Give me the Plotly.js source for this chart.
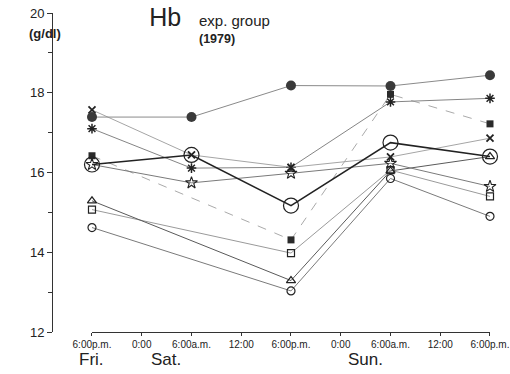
<!DOCTYPE html>
<html>
<head>
<meta charset="utf-8">
<script src="https://cdn.plot.ly/plotly-3.0.1.min.js"></script>
<style>html,body{margin:0;padding:0;background:#fff;}#chart{width:510px;height:374px;}</style>
</head>
<body>
<div id="chart"></div>
<script>
// Hours after Friday 6:00 p.m.
const timeHours = [0, 12, 24, 36, 48];
const tickHours = [0, 6, 12, 18, 24, 30, 36, 42, 48];
const tickLabels = ["6:00p.m.", "0:00", "6:00a.m.", "12:00", "6:00p.m.", "0:00", "6:00a.m.", "12:00", "6:00p.m."];
const yTicks = [12, 14, 16, 18, 20];

// Hb (g/dl) per subject; null = not measured
const bigOpenCircle = [16.2, 16.44, 15.17, 16.75, 16.4];
const filledCircle  = [17.39, 17.39, 18.18, 18.17, 18.44];
const xMark         = [17.57, 16.44, 16.13, 16.39, 16.86];
const asteriskMark  = [17.1, 16.11, 16.13, 17.77, 17.86];
const filledSquare  = [16.42, null, 14.31, 17.96, 17.22];
const starMark      = [16.2, 15.74, 15.98, 16.23, 15.65];
const triangleMark  = [15.29, null, 13.29, 16.04, 16.4];
const openSquare    = [15.07, null, 13.98, 16.06, 15.4];
const smallCircle   = [14.62, null, 13.03, 15.85, 14.9];

function tr(y, sym, size, lineColor, lineWidth, mColor, mLineW, dash) {
  return {
    x: timeHours, y: y, type: 'scatter', mode: 'lines+markers',
    connectgaps: true, cliponaxis: false, hoverinfo: 'skip',
    line: {color: lineColor, width: lineWidth, dash: dash || 'solid'},
    marker: {symbol: sym, size: size, color: mColor,
             line: {color: mColor, width: mLineW}}
  };
}

const data = [
  tr(filledSquare, 'square', 7, '#aaaaaa', 1, '#2a2a2a', 0, 'dash'),
  tr(openSquare, 'square-open', 7, '#9a9a9a', 1, '#222', 1.2),
  tr(triangleMark, 'triangle-up-open', 8, '#5a5a5a', 1, '#222', 1.2),
  tr(smallCircle, 'circle-open', 8, '#7a7a7a', 1, '#222', 1.2),
  tr(starMark, 'star-open', 9, '#7a7a7a', 1, '#222', 1.1),
  tr(asteriskMark, 'asterisk-open', 8, '#858585', 1, '#222', 1.5),
  tr(xMark, 'x-thin-open', 7, '#a5a5a5', 1, '#222', 1.8),
  tr(filledCircle, 'circle', 10, '#8a8a8a', 1, '#3a3a3a', 0),
  tr(bigOpenCircle, 'circle-open', 15, '#222222', 1.6, '#222', 1.2)
];

const F = "Liberation Sans, Arial, sans-serif";

const layout = {
  width: 510, height: 374,
  margin: {l: 52, r: 20, t: 13, b: 42},
  paper_bgcolor: '#fff', plot_bgcolor: '#fff',
  showlegend: false,
  title: {
    text: 'Hb', font: {family: F, size: 25, color: '#222'},
    xref: 'paper', x: 0.222, xanchor: 'left',
    yref: 'container', y: 0.953, yanchor: 'middle'
  },
  xaxis: {
    domain: [0.0913, 1], range: [0, 48], anchor: 'y',
    showgrid: false, zeroline: false, showline: true, linecolor: '#333', linewidth: 1.2,
    tickmode: 'array', tickvals: tickHours, ticktext: tickLabels,
    ticks: 'outside', ticklen: 3, tickcolor: '#333',
    ticklabeloverflow: 'allow',
    tickfont: {family: F, size: 10, color: '#222'}
  },
  yaxis: {
    range: [12, 20], anchor: 'free', position: 0,
    showgrid: false, zeroline: false, showline: true, linecolor: '#333', linewidth: 1.2,
    tickmode: 'array', tickvals: yTicks,
    ticks: 'outside', ticklen: 5, tickcolor: '#333',
    minor: {dtick: 1, tick0: 12, ticks: 'outside', ticklen: 4, tickcolor: '#333'},
    tickfont: {family: F, size: 13, color: '#222'}
  },
  annotations: [
    {text: '(g/dl)', xref: 'paper', yref: 'paper', x: -0.057, y: 0.937, yanchor: 'middle',
     showarrow: false, font: {family: F, size: 13, color: '#222', weight: 'bold'}},
    {text: 'exp. group', xref: 'paper', yref: 'paper', x: 0.331, y: 0.975, xanchor: 'left', yanchor: 'middle',
     showarrow: false, font: {family: F, size: 15, color: '#222'}},
    {text: '(1979)', xref: 'paper', yref: 'paper', x: 0.331, y: 0.918, xanchor: 'left', yanchor: 'middle',
     showarrow: false, font: {family: F, size: 12.5, color: '#222', weight: 'bold'}},
    {text: 'Fri.', xref: 'x', yref: 'paper', x: 0, y: -0.085, yanchor: 'middle',
     showarrow: false, font: {family: F, size: 17, color: '#222'}},
    {text: 'Sat.', xref: 'x', yref: 'paper', x: 8.9, y: -0.085, yanchor: 'middle',
     showarrow: false, font: {family: F, size: 17, color: '#222'}},
    {text: 'Sun.', xref: 'x', yref: 'paper', x: 33, y: -0.085, yanchor: 'middle',
     showarrow: false, font: {family: F, size: 17, color: '#222'}}
  ]
};

Plotly.newPlot('chart', data, layout, {displayModeBar: false, staticPlot: true});
</script>
</body>
</html>
